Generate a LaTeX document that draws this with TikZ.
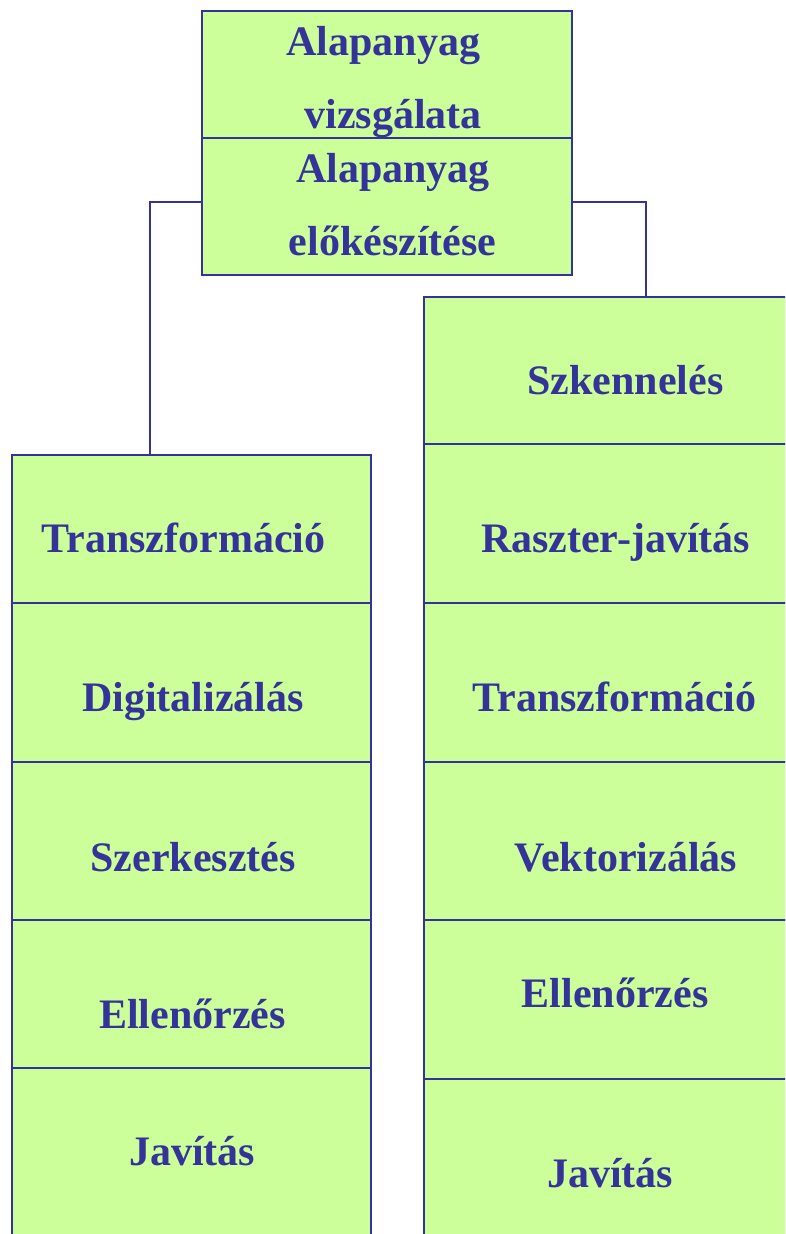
\documentclass[tikz,border=0pt]{standalone}
\usepackage{fontspec}
\setmainfont{Liberation Serif}
\definecolor{boxfill}{HTML}{CCFF99}
\definecolor{ink}{HTML}{333399}
\begin{document}
\begin{tikzpicture}[x=1pt,y=-1pt,
  box/.style={draw=ink,fill=boxfill,line width=1.4pt,inner sep=0pt},
  lbl/.style={text=ink,font=\fontsize{42}{42}\selectfont\bfseries,anchor=base,inner sep=0pt},
  conn/.style={draw=ink,line width=1.4pt}]
\useasboundingbox (0,0) rectangle (785,1234);
\clip (0,0) rectangle (785,1234);
% top boxes
\node[box,minimum width=370pt,minimum height=127pt] (T1) at (387,74.5) {};
\node[box,minimum width=370pt,minimum height=137pt] (T2) at (387,206.5) {};
\node[lbl] (t1a) at (383.5,55) {Alapanyag};
\node[lbl] (t1b) at (393,128) {vizsgálata};
\node[lbl] (t2a) at (393,182) {Alapanyag};
\node[lbl] (t2b) at (392.5,255) {előkészítése};
% left column
\node[box,minimum width=359pt,minimum height=148pt] (L1) at (191.5,529) {};
\node[box,minimum width=359pt,minimum height=159pt] (L2) at (191.5,682.5) {};
\node[box,minimum width=359pt,minimum height=158pt] (L3) at (191.5,841) {};
\node[box,minimum width=359pt,minimum height=148pt] (L4) at (191.5,994) {};
\node[box,minimum width=359pt,minimum height=182pt] (L5) at (191.5,1159) {};
\node[lbl] at (183.5,552) {Transzformáció};
\node[lbl] at (193,711) {Digitalizálás};
\node[lbl] at (193,871) {Szerkesztés};
\node[lbl] at (192.5,1028) {Ellenőrzés};
\node[lbl] at (192,1165) {Javítás};
% right column
\node[box,minimum width=380pt,minimum height=147pt] (R1) at (614,370.5) {};
\node[box,minimum width=380pt,minimum height=159pt] (R2) at (614,523.5) {};
\node[box,minimum width=380pt,minimum height=159pt] (R3) at (614,682.5) {};
\node[box,minimum width=380pt,minimum height=158pt] (R4) at (614,841) {};
\node[box,minimum width=380pt,minimum height=159pt] (R5) at (614,999.5) {};
\node[box,minimum width=380pt,minimum height=171pt] (R6) at (614,1164.5) {};
\node[lbl] at (625.5,394) {Szkennelés};
\node[lbl] at (615.5,552) {Raszter-javítás};
\node[lbl] at (614.5,711) {Transzformáció};
\node[lbl] at (626,871) {Vektorizálás};
\node[lbl] at (615,1007) {Ellenőrzés};
\node[lbl] at (610,1187) {Javítás};
% connectors
\coordinate (cl) at (150,202);
\coordinate (cr) at (646,202);
\draw[conn] (T2.west |- cl) -| (cl |- L1.north);
\draw[conn] (T2.east |- cr) -| (cr |- R1.north);
\end{tikzpicture}
\end{document}
